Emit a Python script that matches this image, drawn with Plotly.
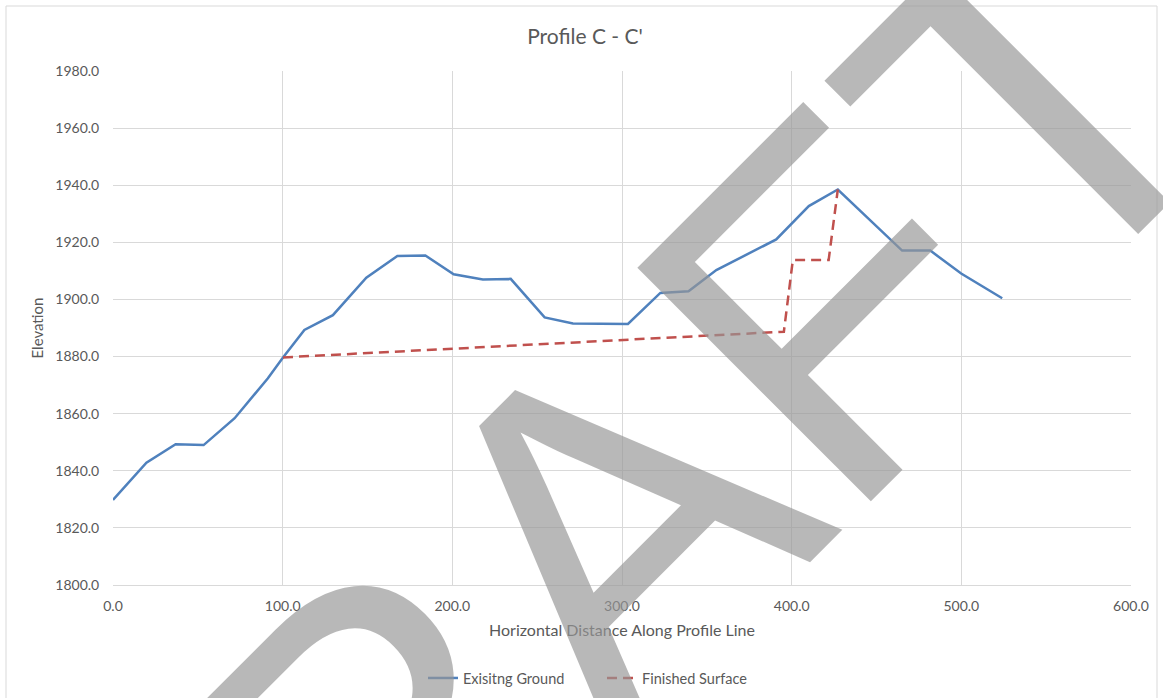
import plotly.graph_objects as go

# ---- data ----
ground_x = [0.0, 19.7, 36.9, 53.4, 71.7, 91.3, 100.2, 112.8, 129.6, 149.3, 167.6, 184.1,
            200.8, 218.0, 234.4, 254.4, 271.1, 303.5, 322.6, 339.2, 355.6, 390.9, 410.1,
            427.2, 465.1, 481.7, 499.9, 524.1]
ground_y = [1829.8, 1842.8, 1849.3, 1849.0, 1858.4, 1872.4, 1879.7, 1889.3, 1894.5, 1907.6,
            1915.2, 1915.4, 1908.8, 1907.0, 1907.2, 1893.7, 1891.6, 1891.4, 1902.3, 1902.9,
            1910.3, 1921.0, 1932.7, 1938.5, 1917.1, 1917.1, 1909.1, 1900.4]
finished_x = [100.2, 395.4, 400.7, 421.8, 427.2]
finished_y = [1879.7, 1888.7, 1913.8, 1913.8, 1938.5]

series_names = ["Exisitng Ground", "Finished Surface"]
chart_title = "Profile C - C'"
x_title = "Horizontal Distance Along Profile Line"
y_title = "Elevation"
watermark = "DRAFT"

FONT = "Lato"
TXT = "#595959"
GRID = "#d9d9d9"

fig = go.Figure()
fig.add_trace(go.Scatter(x=ground_x, y=ground_y, mode="lines", name=series_names[0],
                         line=dict(color="#4F81BD", width=2.5)))
fig.add_trace(go.Scatter(x=finished_x, y=finished_y, mode="lines", name=series_names[1],
                         line=dict(color="#C0504D", width=2.5, dash="10px,6px")))

fig.update_layout(
    width=1163, height=698,
    margin=dict(l=113, r=32, t=71, b=113, autoexpand=False),
    paper_bgcolor="white", plot_bgcolor="white",
    font=dict(family=FONT, color=TXT, size=14),
    title=dict(text=chart_title, x=0.503, xref="container", xanchor="center",
               y=1 - 37 / 698, yref="container", yanchor="middle",
               font=dict(size=21, color=TXT, family=FONT)),
    showlegend=True,
    legend=dict(orientation="h", x=(602 - 113) / 1018, xanchor="center", y=-0.181,
                yanchor="middle", entrywidth=134, entrywidthmode="pixels",
                font=dict(size=14.5, color=TXT, family=FONT), bgcolor="rgba(0,0,0,0)"),
    xaxis=dict(range=[0, 600], dtick=100, tick0=0, tickformat=".1f", automargin=False,
               showgrid=True, gridcolor=GRID, gridwidth=1, zeroline=False,
               showline=True, linecolor=GRID, linewidth=1,
               ticks="outside", ticklen=8, tickcolor="rgba(0,0,0,0)",
               tickfont=dict(size=14, color=TXT),
               title=dict(text=x_title, font=dict(size=16, color=TXT), standoff=12)),
    yaxis=dict(range=[1800, 1980], dtick=20, tick0=1800, tickformat=".1f", automargin=False,
               showgrid=True, gridcolor=GRID, gridwidth=1, zeroline=False,
               showline=False,
               ticks="outside", ticklen=10, tickcolor="rgba(0,0,0,0)",
               tickfont=dict(size=14, color=TXT),
               title=dict(text=y_title, font=dict(size=15, color=TXT), standoff=8)),
)

# outer chart border
fig.add_shape(type="rect", xref="paper", yref="paper",
              x0=(6 - 113) / 1018, x1=(1157 - 113) / 1018,
              y0=(585 - 702) / 514, y1=(585 - 6) / 514,
              line=dict(color=GRID, width=1), fillcolor="rgba(0,0,0,0)", layer="below")

# watermark
fig.add_annotation(text=watermark, xref="paper", yref="paper",
                   x=(574 - 113) / 1018, y=(585 - 562) / 514,
                   xanchor="center", yanchor="middle", showarrow=False,
                   textangle=-45,
                   font=dict(family="Liberation Sans", size=480,
                             color="rgba(150,150,150,0.68)"))

fig.write_html("out.html")
